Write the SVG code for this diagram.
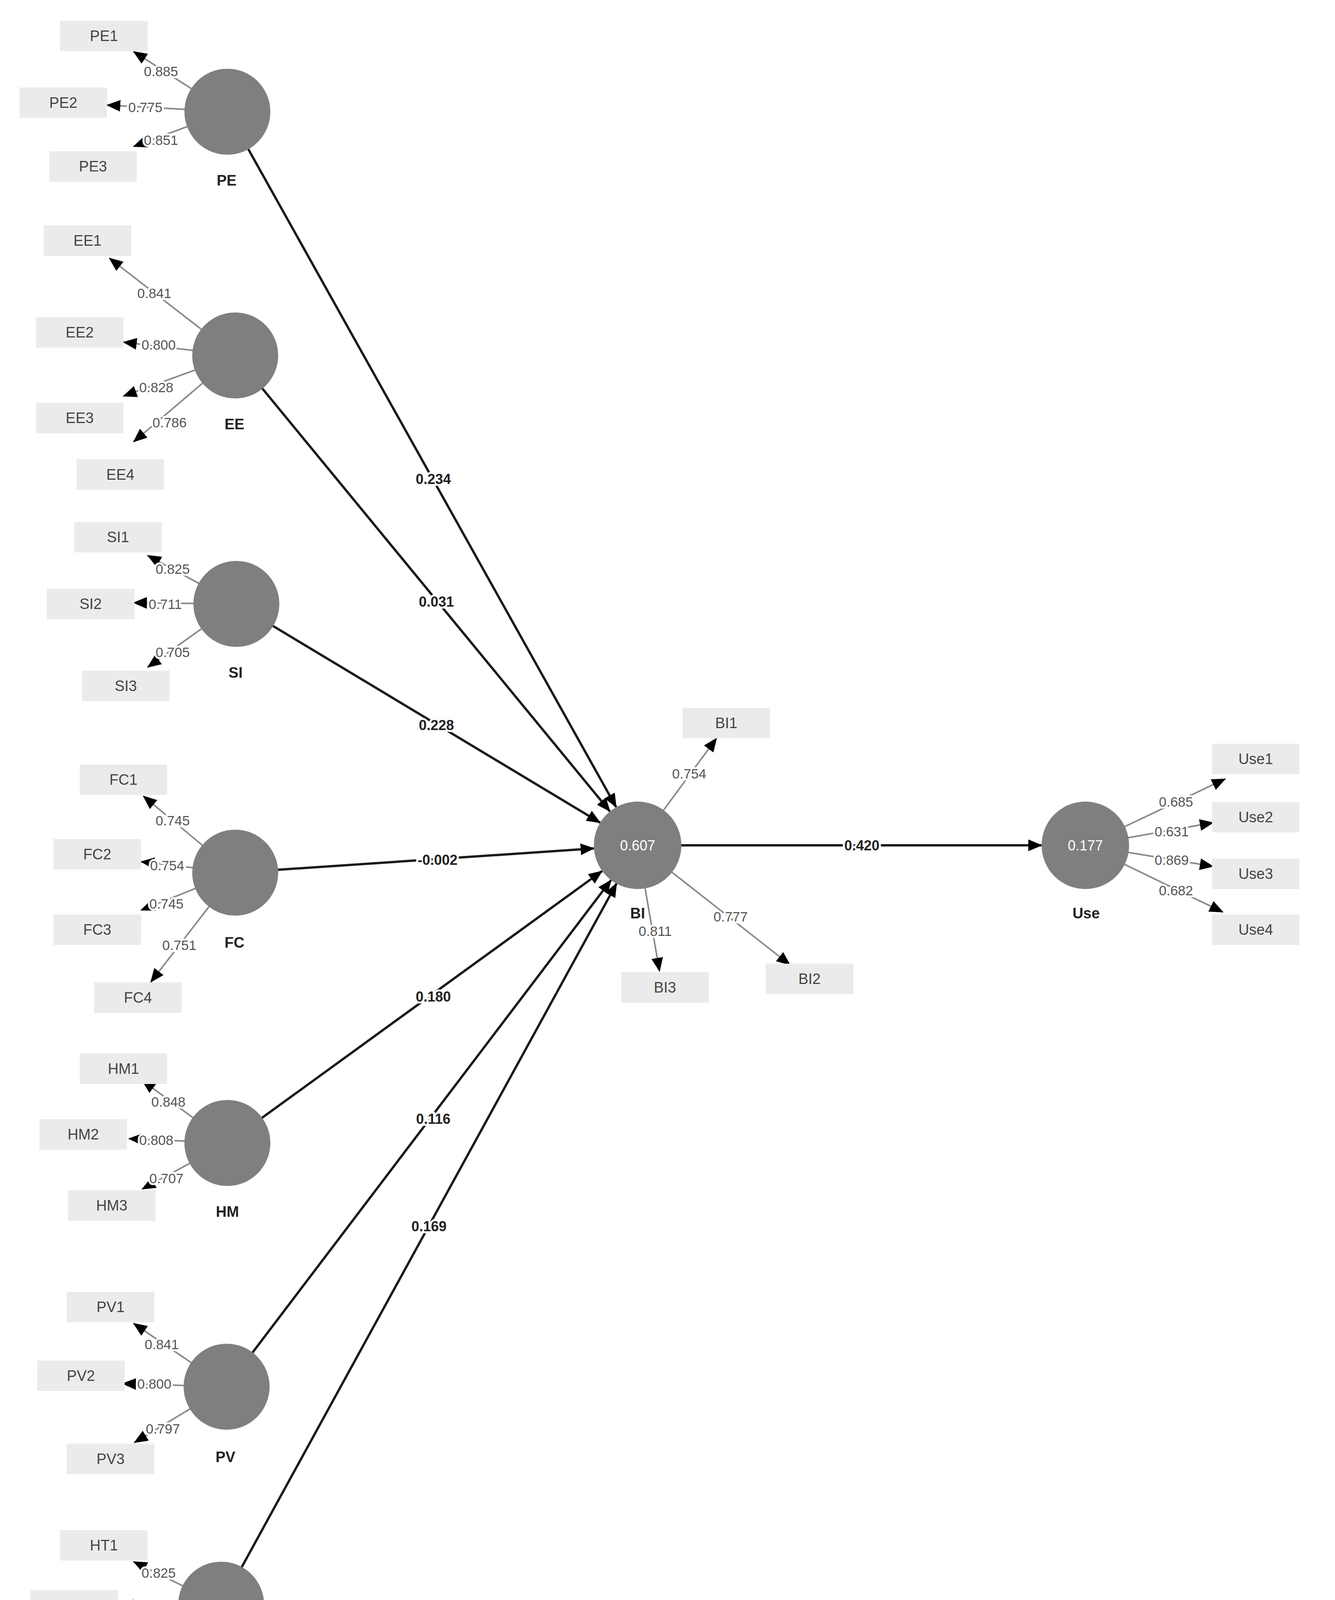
<svg xmlns="http://www.w3.org/2000/svg" width="3417" height="4438" viewBox="0 0 3417 4438">
<style>
.lv{fill:#7f7f7f}
.ind rect{fill:#ebebeb}
.ind text{font:38px "Liberation Sans",Arial,sans-serif;fill:#444;text-anchor:middle;dominant-baseline:central}
.nm{font:bold 38px "Liberation Sans",Arial,sans-serif;fill:#222;text-anchor:middle;dominant-baseline:central}
.r2{font:36px "Liberation Sans",Arial,sans-serif;fill:#fff;text-anchor:middle;dominant-baseline:central}
.ld{stroke:#8a8a8a;stroke-width:4;fill:none;marker-end:url(#ah)}
.pt{stroke:#1a1a1a;stroke-width:6;fill:none;marker-end:url(#ah)}
.ll{font:35px "Liberation Sans",Arial,sans-serif;fill:#555;text-anchor:middle;dominant-baseline:central;stroke:#fff;stroke-width:10;paint-order:stroke}
.pl{font:bold 36px "Liberation Sans",Arial,sans-serif;fill:#222;text-anchor:middle;dominant-baseline:central;stroke:#fff;stroke-width:10;paint-order:stroke}
</style>
<defs><marker id="ah" markerUnits="userSpaceOnUse" markerWidth="36" markerHeight="30" refX="34" refY="15" orient="auto"><path d="M0,0L36,15L0,30z" fill="#000"/></marker></defs>
<rect width="3417" height="4438" fill="#fff"/>
<g id="connectors">
<line class="pt" x1="582" y1="286" x2="1577" y2="2066"/>
<line class="pt" x1="602" y1="910" x2="1561" y2="2077"/>
<line class="pt" x1="605" y1="1546" x2="1536" y2="2106"/>
<line class="pt" x1="602" y1="2234" x2="1520" y2="2172"/>
<line class="pt" x1="582" y1="2926" x2="1541" y2="2230"/>
<line class="pt" x1="580" y1="3550" x2="1564" y2="2253"/>
<line class="pt" x1="566" y1="4108" x2="1578" y2="2262"/>
<line class="pt" x1="1700" y1="2164" x2="2666" y2="2164"/>
<line class="ld" x1="582" y1="286" x2="342" y2="132"/>
<line class="ld" x1="582" y1="286" x2="274" y2="269"/>
<line class="ld" x1="582" y1="286" x2="342" y2="375"/>
<line class="ld" x1="602" y1="910" x2="280" y2="661"/>
<line class="ld" x1="602" y1="910" x2="316" y2="876"/>
<line class="ld" x1="602" y1="910" x2="316" y2="1014"/>
<line class="ld" x1="602" y1="910" x2="342" y2="1131"/>
<line class="ld" x1="605" y1="1546" x2="378" y2="1422"/>
<line class="ld" x1="605" y1="1546" x2="342" y2="1543"/>
<line class="ld" x1="605" y1="1546" x2="378" y2="1708"/>
<line class="ld" x1="602" y1="2234" x2="367" y2="2038"/>
<line class="ld" x1="602" y1="2234" x2="361" y2="2206"/>
<line class="ld" x1="602" y1="2234" x2="361" y2="2330"/>
<line class="ld" x1="602" y1="2234" x2="386" y2="2514"/>
<line class="ld" x1="582" y1="2926" x2="364" y2="2766"/>
<line class="ld" x1="582" y1="2926" x2="330" y2="2915"/>
<line class="ld" x1="582" y1="2926" x2="364" y2="3044"/>
<line class="ld" x1="580" y1="3550" x2="342" y2="3388"/>
<line class="ld" x1="580" y1="3550" x2="314" y2="3542"/>
<line class="ld" x1="580" y1="3550" x2="344" y2="3693"/>
<line class="ld" x1="566" y1="4108" x2="342" y2="3998"/>
<line class="ld" x1="566" y1="4108" x2="308" y2="4110"/>
<line class="ld" x1="566" y1="4108" x2="358" y2="4256"/>
<line class="ld" x1="1632" y1="2164" x2="1834" y2="1890"/>
<line class="ld" x1="1632" y1="2164" x2="2022" y2="2470"/>
<line class="ld" x1="1632" y1="2164" x2="1688" y2="2486"/>
<line class="ld" x1="2778" y1="2164" x2="3136" y2="1994"/>
<line class="ld" x1="2778" y1="2164" x2="3105" y2="2106"/>
<line class="ld" x1="2778" y1="2164" x2="3105" y2="2218"/>
<line class="ld" x1="2778" y1="2164" x2="3130" y2="2335"/>
<text class="pl" x="1109" y="1226">0.234</text>
<text class="pl" x="1117" y="1540">0.031</text>
<text class="pl" x="1117" y="1856">0.228</text>
<text class="pl" x="1120" y="2201">-0.002</text>
<text class="pl" x="1109" y="2551">0.180</text>
<text class="pl" x="1109" y="2864">0.116</text>
<text class="pl" x="1098" y="3139">0.169</text>
<text class="pl" x="2206" y="2164">0.420</text>
<text class="ll" x="412" y="182">0.885</text>
<text class="ll" x="372" y="274">0.775</text>
<text class="ll" x="412" y="358">0.851</text>
<text class="ll" x="395" y="750">0.841</text>
<text class="ll" x="406" y="882">0.800</text>
<text class="ll" x="400" y="991">0.828</text>
<text class="ll" x="434" y="1081">0.786</text>
<text class="ll" x="442" y="1456">0.825</text>
<text class="ll" x="423" y="1546">0.711</text>
<text class="ll" x="442" y="1669">0.705</text>
<text class="ll" x="442" y="2100">0.745</text>
<text class="ll" x="428" y="2215">0.754</text>
<text class="ll" x="426" y="2313">0.745</text>
<text class="ll" x="459" y="2419">0.751</text>
<text class="ll" x="431" y="2820">0.848</text>
<text class="ll" x="400" y="2918">0.808</text>
<text class="ll" x="426" y="3016">0.707</text>
<text class="ll" x="414" y="3441">0.841</text>
<text class="ll" x="395" y="3542">0.800</text>
<text class="ll" x="417" y="3657">0.797</text>
<text class="ll" x="406" y="4026">0.825</text>
<text class="ll" x="384" y="4113">0.621</text>
<text class="ll" x="412" y="4220">0.843</text>
<text class="ll" x="1764" y="1980">0.754</text>
<text class="ll" x="1870" y="2346">0.777</text>
<text class="ll" x="1677" y="2383">0.811</text>
<text class="ll" x="3010" y="2052">0.685</text>
<text class="ll" x="2999" y="2128">0.631</text>
<text class="ll" x="2999" y="2201">0.869</text>
<text class="ll" x="3010" y="2279">0.682</text>
</g>
<g id="PE"><circle class="lv" cx="582" cy="286" r="110"/><text class="nm" x="580" y="462">PE</text></g>
<g id="EE"><circle class="lv" cx="602" cy="910" r="110"/><text class="nm" x="600" y="1086">EE</text></g>
<g id="SI"><circle class="lv" cx="605" cy="1546" r="110"/><text class="nm" x="603" y="1722">SI</text></g>
<g id="FC"><circle class="lv" cx="602" cy="2234" r="110"/><text class="nm" x="600" y="2413">FC</text></g>
<g id="HM"><circle class="lv" cx="582" cy="2926" r="110"/><text class="nm" x="582" y="3102">HM</text></g>
<g id="PV"><circle class="lv" cx="580" cy="3550" r="110"/><text class="nm" x="577" y="3730">PV</text></g>
<g id="HT"><circle class="lv" cx="566" cy="4108" r="110"/><text class="nm" x="560" y="4284">HT</text></g>
<g id="BI"><circle class="lv" cx="1632" cy="2164" r="112"/><text class="r2" x="1632" y="2164">0.607</text><text class="nm" x="1632" y="2338">BI</text></g>
<g id="Use"><circle class="lv" cx="2778" cy="2164" r="112"/><text class="r2" x="2778" y="2164">0.177</text><text class="nm" x="2780" y="2338">Use</text></g>
<g class="ind">
<g id="PE1"><rect x="154" y="53" width="224" height="78"/><text x="266" y="92">PE1</text></g>
<g id="PE2"><rect x="50" y="224" width="224" height="78"/><text x="162" y="263">PE2</text></g>
<g id="PE3"><rect x="126" y="387" width="224" height="78"/><text x="238" y="426">PE3</text></g>
<g id="EE1"><rect x="112" y="577" width="224" height="78"/><text x="224" y="616">EE1</text></g>
<g id="EE2"><rect x="92" y="812" width="224" height="78"/><text x="204" y="851">EE2</text></g>
<g id="EE3"><rect x="92" y="1031" width="224" height="78"/><text x="204" y="1070">EE3</text></g>
<g id="EE4"><rect x="196" y="1176" width="224" height="78"/><text x="308" y="1215">EE4</text></g>
<g id="SI1"><rect x="190" y="1336" width="224" height="78"/><text x="302" y="1375">SI1</text></g>
<g id="SI2"><rect x="120" y="1507" width="224" height="78"/><text x="232" y="1546">SI2</text></g>
<g id="SI3"><rect x="210" y="1717" width="224" height="78"/><text x="322" y="1756">SI3</text></g>
<g id="FC1"><rect x="204" y="1957" width="224" height="78"/><text x="316" y="1996">FC1</text></g>
<g id="FC2"><rect x="137" y="2148" width="224" height="78"/><text x="249" y="2187">FC2</text></g>
<g id="FC3"><rect x="137" y="2341" width="224" height="78"/><text x="249" y="2380">FC3</text></g>
<g id="FC4"><rect x="241" y="2515" width="224" height="78"/><text x="353" y="2554">FC4</text></g>
<g id="HM1"><rect x="204" y="2697" width="224" height="78"/><text x="316" y="2736">HM1</text></g>
<g id="HM2"><rect x="101" y="2865" width="224" height="78"/><text x="213" y="2904">HM2</text></g>
<g id="HM3"><rect x="174" y="3047" width="224" height="78"/><text x="286" y="3086">HM3</text></g>
<g id="PV1"><rect x="171" y="3307" width="224" height="78"/><text x="283" y="3346">PV1</text></g>
<g id="PV2"><rect x="95" y="3483" width="224" height="78"/><text x="207" y="3522">PV2</text></g>
<g id="PV3"><rect x="171" y="3696" width="224" height="78"/><text x="283" y="3735">PV3</text></g>
<g id="HT1"><rect x="154" y="3917" width="224" height="78"/><text x="266" y="3956">HT1</text></g>
<g id="HT2"><rect x="78" y="4071" width="224" height="78"/><text x="190" y="4110">HT2</text></g>
<g id="HT3"><rect x="185" y="4262" width="224" height="78"/><text x="297" y="4301">HT3</text></g>
<g id="BI1"><rect x="1747" y="1812" width="224" height="78"/><text x="1859" y="1851">BI1</text></g>
<g id="BI2"><rect x="1960" y="2467" width="224" height="78"/><text x="2072" y="2506">BI2</text></g>
<g id="BI3"><rect x="1590" y="2489" width="224" height="78"/><text x="1702" y="2528">BI3</text></g>
<g id="Use1"><rect x="3102" y="1904" width="224" height="78"/><text x="3214" y="1943">Use1</text></g>
<g id="Use2"><rect x="3102" y="2053" width="224" height="78"/><text x="3214" y="2092">Use2</text></g>
<g id="Use3"><rect x="3102" y="2198" width="224" height="78"/><text x="3214" y="2237">Use3</text></g>
<g id="Use4"><rect x="3102" y="2341" width="224" height="78"/><text x="3214" y="2380">Use4</text></g>
</g>
</svg>
